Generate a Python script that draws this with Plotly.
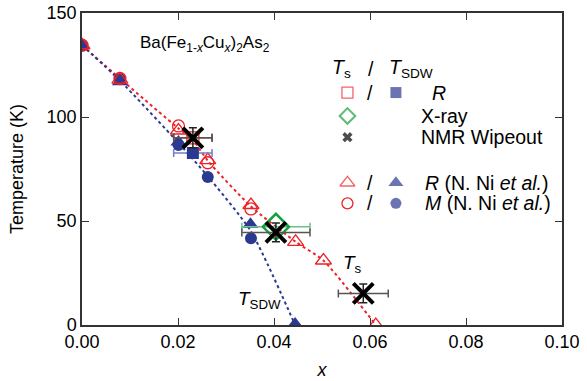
import plotly.graph_objects as go

# ---------------- data ----------------
# Ts (structural) from R (this work), open red squares
ts_R_x = [0.0231]
ts_R_T = [90.0]
ts_R_xerr = [0.004]
# TSDW from R (this work), filled blue squares
tsdw_R_x = [0.0231]
tsdw_R_T = [82.7]
tsdw_R_xerr = [0.004]
# X-ray Ts
xray_x = [0.0404]
xray_T = [47.2]
xray_xerr = [0.0071]
# NMR wipeout
nmr_x = [0.0231, 0.0404, 0.0586]
nmr_T = [90.0, 44.5, 15.2]
nmr_xerr = [0.004, 0.0071, 0.0052]
nmr_Terr = [4.8, 4.5, 4.5]
# N. Ni et al. : R
ni_R_ts_x = [0.0, 0.0079, 0.0201, 0.0262, 0.0352, 0.0445, 0.0503, 0.0612]
ni_R_ts_T = [134.5, 118.0, 93.5, 79.3, 57.7, 40.0, 31.0, 0.0]
ni_R_tsdw_x = [0.0, 0.0079, 0.0201, 0.0351, 0.0444]
ni_R_tsdw_T = [134.5, 117.0, 88.0, 48.4, 0.5]
# N. Ni et al. : M
ni_M_ts_x = [0.0, 0.0079, 0.0201, 0.0262, 0.0352]
ni_M_ts_T = [134.5, 118.5, 95.7, 78.0, 55.8]
ni_M_tsdw_x = [0.0, 0.0079, 0.0201, 0.0262, 0.0352]
ni_M_tsdw_T = [134.5, 118.3, 86.5, 71.2, 41.7]
# dotted guide lines
guide_ts_x = [0.0, 0.0079, 0.0201, 0.0231, 0.0262, 0.0352, 0.0445, 0.0503, 0.0612]
guide_ts_T = [134.5, 118.5, 94.5, 89.0, 79.0, 57.0, 40.0, 31.0, 0.0]
guide_tsdw_x = [0.0, 0.0079, 0.0201, 0.0262, 0.0352, 0.0444]
guide_tsdw_T = [134.5, 117.5, 87.5, 71.5, 45.0, 0.0]

x_ticks = [0.00, 0.02, 0.04, 0.06, 0.08, 0.10]
y_ticks = [0, 50, 100, 150]

RED = "#ec2228"
BLUE = "#2b3990"
GREEN = "#14a03c"
FONT = "Liberation Sans, Arial, sans-serif"
FS = 18
LFS = 19.5

fig = go.Figure()

# guide lines
fig.add_trace(go.Scatter(x=guide_ts_x, y=guide_ts_T, mode="lines",
                         line=dict(color=RED, width=2, dash="dot", shape="spline", smoothing=0.6)))
fig.add_trace(go.Scatter(x=guide_tsdw_x, y=guide_tsdw_T, mode="lines",
                         line=dict(color=BLUE, width=2, dash="dot", shape="spline", smoothing=0.6)))

# N. Ni data
fig.add_trace(go.Scatter(x=ni_R_tsdw_x, y=ni_R_tsdw_T, mode="markers",
                         marker=dict(symbol="triangle-up", size=14, color=BLUE)))
fig.add_trace(go.Scatter(x=ni_M_tsdw_x, y=ni_M_tsdw_T, mode="markers",
                         marker=dict(symbol="circle", size=12, color=BLUE)))
fig.add_trace(go.Scatter(x=ni_M_ts_x, y=ni_M_ts_T, mode="markers",
                         marker=dict(symbol="circle-open", size=12, color=RED, line=dict(width=1.3))))
fig.add_trace(go.Scatter(x=ni_R_ts_x, y=ni_R_ts_T, mode="markers",
                         marker=dict(symbol="triangle-up-open", size=14, color=RED, line=dict(width=1.3))))

# this work: R
fig.add_trace(go.Scatter(x=tsdw_R_x, y=tsdw_R_T, mode="markers",
                         error_x=dict(type="data", array=tsdw_R_xerr, color="#7080c8", thickness=1.5, width=4),
                         marker=dict(symbol="square", size=12, color=BLUE)))
fig.add_trace(go.Scatter(x=ts_R_x, y=ts_R_T, mode="markers",
                         error_x=dict(type="data", array=ts_R_xerr, color="#7a2a2a", thickness=1.5, width=4),
                         marker=dict(symbol="square-open", size=12, color=RED, line=dict(width=1.3))))
# X-ray
fig.add_trace(go.Scatter(x=xray_x, y=xray_T, mode="markers",
                         error_x=dict(type="data", array=xray_xerr, color="#6cc08a", thickness=1.5, width=4),
                         marker=dict(symbol="diamond-open", size=20, color=GREEN, line=dict(width=2.5))))
# NMR
fig.add_trace(go.Scatter(x=nmr_x, y=nmr_T, mode="markers",
                         error_x=dict(type="data", array=nmr_xerr, color="#555555", thickness=1.5, width=4),
                         error_y=dict(type="data", array=nmr_Terr, color="#222222", thickness=1.5, width=4),
                         marker=dict(symbol="x-thin-open", size=20, color="black", line=dict(width=4, color="black"))))

# legend symbols on an overlay axis (0..1)
leg_col = [0.553, 0.654]
leg_row = [0.745, 0.670, 0.602, 0.456, 0.390]
fig.add_trace(go.Scatter(x=[leg_col[0], leg_col[1], leg_col[0], leg_col[0], leg_col[1], leg_col[0], leg_col[1]],
                         y=[leg_row[0], leg_row[0], leg_row[1], leg_row[2], leg_row[3], leg_row[3], leg_row[4]],
                         xaxis="x2", yaxis="y2", mode="markers",
                         marker=dict(symbol=["square-open", "square", "diamond-open", "x", "triangle-up",
                                             "triangle-up-open", "circle"],
                                     size=[11, 11, 12, 9, 13, 13, 11],
                                     color=[RED, BLUE, GREEN, "black", BLUE, RED, BLUE],
                                     line=dict(width=[1.3, 0, 2, 0, 0, 1.3, 0],
                                               color=[RED, BLUE, GREEN, "black", BLUE, RED, BLUE]))))
fig.add_trace(go.Scatter(x=[leg_col[0]], y=[leg_row[4]], xaxis="x2", yaxis="y2", mode="markers",
                         marker=dict(symbol="circle-open", size=11, color=RED, line=dict(width=1.3))))

ann = []
def A(x, y, text, xanchor="left", size=LFS):
    ann.append(dict(x=x, y=y, xref="paper", yref="paper", text=text, showarrow=False,
                    xanchor=xanchor, yanchor="middle", font=dict(size=size, color="black", family=FONT)))

A(0.117, 0.900, "Ba(Fe<sub>1-<i>x</i></sub>Cu<sub><i>x</i></sub>)<sub>2</sub>As<sub>2</sub>", size=17)
A(0.540, 0.822, "<i>T</i><sub>s</sub>", "center")
A(0.602, 0.822, "/", "center")
A(0.635, 0.822, "<i>T</i><sub>SDW</sub>")
for r in [0, 3, 4]:
    A(0.600, leg_row[r], "/", "center")
A(0.725, leg_row[0], "<i>R</i>")
A(0.703, leg_row[1], "X-ray")
A(0.703, leg_row[2], "NMR Wipeout")
A(0.711, leg_row[3], "<i>R</i> (N. Ni <i>et al.</i>)")
A(0.711, leg_row[4], "<i>M</i> (N. Ni <i>et al.</i>)")
A(0.540, 0.195, "<i>T</i><sub>s</sub>", size=19)
A(0.321, 0.080, "<i>T</i><sub>SDW</sub>", size=19)

fig.update_layout(
    width=587, height=381,
    margin=dict(l=82, r=25, t=13, b=56),
    paper_bgcolor="white", plot_bgcolor="white",
    showlegend=False,
    font=dict(family=FONT, size=FS, color="black"),
    annotations=ann,
    xaxis=dict(range=[0, 0.10], tickvals=x_ticks, ticktext=[f"{v:.2f}" for v in x_ticks],
               ticks="inside", ticklen=7, tickwidth=1, tickcolor="#333",
               showline=True, linecolor="#333", linewidth=1.5, mirror="ticks",
               showgrid=False, zeroline=False, automargin=False, ticklabeloverflow="allow",
               title=dict(text="<i>x</i>", standoff=12, font=dict(size=FS))),
    yaxis=dict(range=[0, 150], tickvals=y_ticks,
               ticks="inside", ticklen=7, tickwidth=1, tickcolor="#333",
               showline=True, linecolor="#333", linewidth=1.5, mirror="ticks",
               showgrid=False, zeroline=False, automargin=False, ticklabeloverflow="allow",
               title=dict(text="Temperature (K)", standoff=18, font=dict(size=FS))),
    xaxis2=dict(range=[0, 1], overlaying="x", visible=False),
    yaxis2=dict(range=[0, 1], overlaying="y", visible=False),
)

# remove the browser's default 8 px body margin so the figure sits at the page corner
fig.write_html("out.html", config={"displayModeBar": False},
               post_script="document.body.style.margin='0';")
